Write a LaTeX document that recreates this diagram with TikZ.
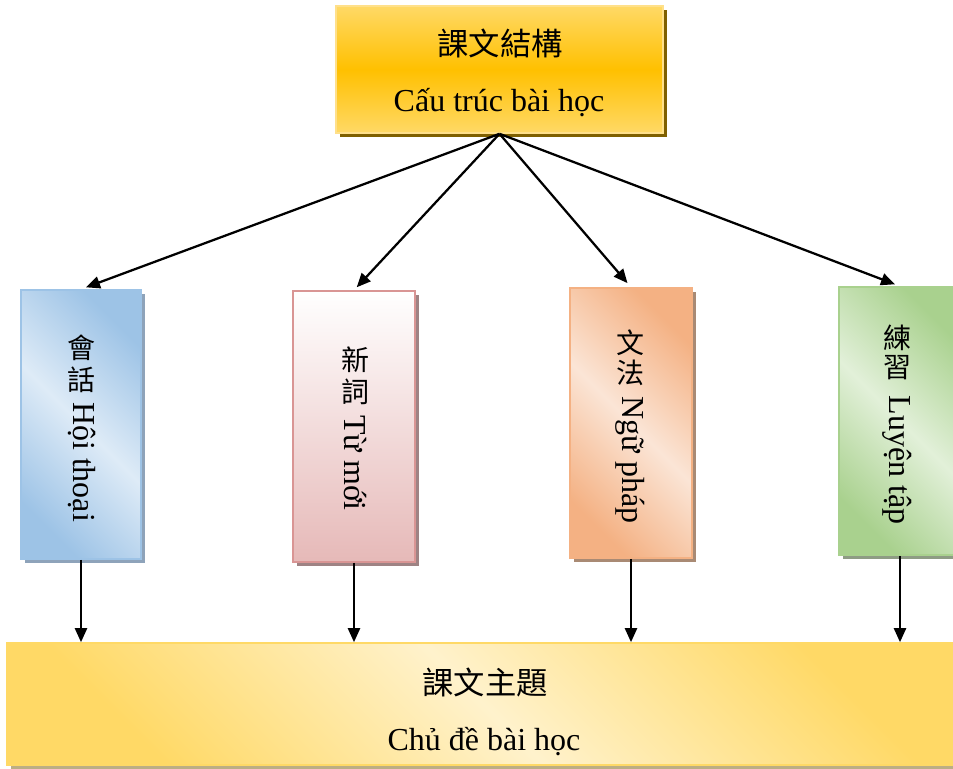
\documentclass[tikz,border=0pt]{standalone}
\usepackage{fontspec}
\setmainfont{Liberation Serif}
\newfontfamily\cjkfont{Noto Sans CJK TC}
\usetikzlibrary{arrows.meta}
\definecolor{tDark}{HTML}{FFC000}
\definecolor{tLight}{HTML}{FFD966}
\definecolor{tBorder}{HTML}{FFE08A}
\definecolor{tShadow}{HTML}{7F6000}
\definecolor{bluDark}{HTML}{9DC3E6}
\definecolor{bluLight}{HTML}{DEEBF7}
\definecolor{bluShadow}{HTML}{8EA3BA}
\definecolor{pnkDark}{HTML}{E6B9B8}
\definecolor{pnkBorder}{HTML}{D99594}
\definecolor{pnkShadow}{HTML}{9E8384}
\definecolor{orgDark}{HTML}{F4B183}
\definecolor{orgLight}{HTML}{FBE5D6}
\definecolor{orgShadow}{HTML}{A98A74}
\definecolor{grnDark}{HTML}{A9D18E}
\definecolor{grnLight}{HTML}{E2F0D9}
\definecolor{grnShadow}{HTML}{8E9C84}
\definecolor{botDark}{HTML}{FFD966}
\definecolor{botLight}{HTML}{FFF2CC}
\definecolor{botShadow}{HTML}{BCAE84}
\begin{document}
\begin{tikzpicture}[x=0.75pt,y=-0.75pt,
  boxbase/.style={rectangle, inner sep=0pt, line width=1.2pt},
  shadowed/.style={preaction={fill=#1, transform canvas={shift={(3pt,-3pt)}}}},
  diag/.style n args={2}{left color=#1, right color=#1, middle color=#2, shading angle=-45},
  lat/.style={font=\fontsize{24}{28}\selectfont, inner sep=0pt},
  cjkbig/.style={font=\cjkfont\fontsize{23.5}{26}\selectfont, inner sep=0pt},
  cjksmall/.style={font=\cjkfont\fontsize{21}{24}\selectfont, inner sep=0pt},
  arr/.style={line width=1.7pt, -{Triangle[length=10.5pt,width=9pt]}}
]
\useasboundingbox (0,0) rectangle (953,768);
\clip (0,0) rectangle (953,768);

% boxes
\node[boxbase, draw=tBorder, shadowed=tShadow, top color=tLight, bottom color=tLight, middle color=tDark,
      minimum width=245.25pt, minimum height=95.25pt] (top) at (499.5,69.5) {};
\node[boxbase, draw=bluDark, shadowed=bluShadow, diag={bluDark}{bluLight},
      minimum width=90pt, minimum height=201.75pt] (b1) at (81,424.5) {};
\node[boxbase, draw=pnkBorder, shadowed=pnkShadow, top color=white, bottom color=pnkDark,
      minimum width=91.5pt, minimum height=203.25pt] (b2) at (354,426.5) {};
\node[boxbase, draw=orgDark, shadowed=orgShadow, diag={orgDark}{orgLight},
      minimum width=91.5pt, minimum height=202.5pt] (b3) at (631,423) {};
\node[boxbase, draw=grnDark, shadowed=grnShadow, diag={grnDark}{grnLight},
      minimum width=91.5pt, minimum height=201pt] (b4) at (900,421) {};
\node[boxbase, draw=botDark, shadowed=botShadow, diag={botDark}{botLight},
      minimum width=714.75pt, minimum height=91.5pt] (bot) at (483.5,704) {};

% arrows
\draw[arr, shorten >=4pt] (top.south) -- (b1.north);
\draw[arr, shorten >=3pt] (top.south) -- (b2.north);
\draw[arr, shorten >=4pt] (top.south) -- (b3.north);
\draw[arr, shorten >=4pt] (top.south) -- (b4.north);
\draw[arr] (b1.south) -- (b1.south |- bot.north);
\draw[arr] (b2.south) -- (b2.south |- bot.north);
\draw[arr] (b3.south) -- (b3.south |- bot.north);
\draw[arr] (b4.south) -- (b4.south |- bot.north);

% texts
\node[cjkbig] (topzh) at (500,43) {課文結構};
\node[lat, anchor=base] (topvi) at (499,111) {Cấu trúc bài học};

\node[cjksmall] (z1a) at (81,348) {會};
\node[cjksmall] (z1b) at (81,380) {話};
\node[lat, rotate=-90] (v1) at (82,462) {Hội thoại};

\node[cjksmall] (z2a) at (355,360) {新};
\node[cjksmall] (z2b) at (355,392) {詞};
\node[lat, rotate=-90] (v2) at (355,463) {Từ mới};

\node[cjksmall] (z3a) at (630,343) {文};
\node[cjksmall] (z3b) at (630,373) {法};
\node[lat, rotate=-90] (v3) at (630,460) {Ngữ pháp};

\node[cjksmall] (z4a) at (897,338) {練};
\node[cjksmall] (z4b) at (897,368) {習};
\node[lat, rotate=-90] (v4) at (897,460) {Luyện tập};

\node[cjkbig] (botzh) at (485,683) {課文主題};
\node[lat, anchor=base] (botvi) at (484,750) {Chủ đề bài học};
\end{tikzpicture}
\end{document}
